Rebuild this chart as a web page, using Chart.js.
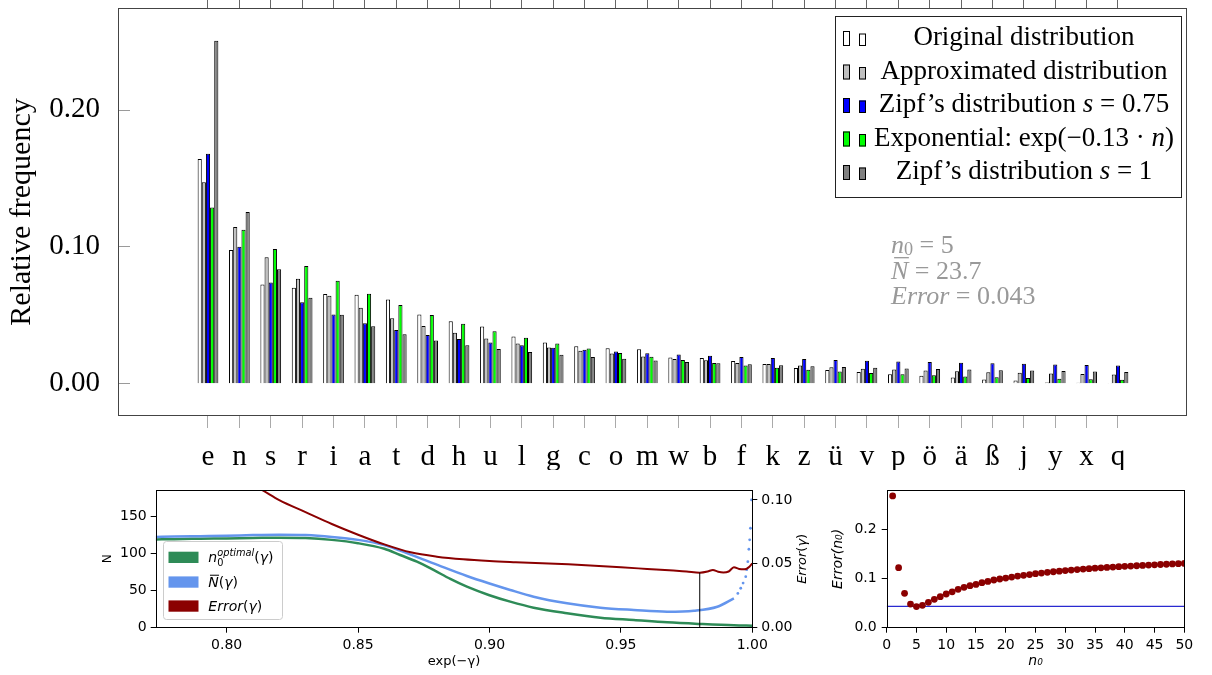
<!DOCTYPE html>
<html><head><meta charset="utf-8">
<script src="https://cdn.jsdelivr.net/npm/chart.js@4.4.1/dist/chart.umd.min.js"></script>
<style>
html,body{margin:0;padding:0;background:#fff;}
#wrap{position:relative;width:1212px;height:675px;overflow:hidden;background:#fff;}
canvas{position:absolute;}
</style></head><body>
<div id="wrap">
<canvas id="main" width="1212" height="470" style="left:0;top:0;width:1212px;height:470px"></canvas>
<canvas id="gam" width="720" height="195" style="left:100px;top:480px;width:720px;height:195px"></canvas>
<canvas id="n0c" width="392" height="195" style="left:820px;top:480px;width:392px;height:195px"></canvas>
</div>
<script>
// ---------------- DATA ----------------
const letters = ['e','n','s','r','i','a','t','d','h','u','l','g','c','o','m','w','b','f','k','z','ü','v','p','ö','ä','ß','j','y','x','q'];
const seriesNames = ['Original distribution','Approximated distribution','Zipf’s distribution s = 0.75','Exponential: exp(−0.13 · n)','Zipf’s distribution s = 1'];
const originalDist = [0.1639,0.0974,0.0723,0.0698,0.0652,0.0647,0.0613,0.0503,0.0454,0.0415,0.0342,0.0298,0.0271,0.0256,0.0249,0.0188,0.0185,0.0163,0.0141,0.0112,0.0098,0.0083,0.0066,0.0056,0.0042,0.0027,0.0021,0.0006,0.0004,0.0003];
const approxDist = [0.1470,0.1143,0.0921,0.0764,0.0640,0.0552,0.0476,0.0418,0.0369,0.0327,0.0291,0.0262,0.0237,0.0217,0.0195,0.0178,0.0168,0.0149,0.0141,0.0130,0.0117,0.0107,0.0100,0.0093,0.0088,0.0081,0.0078,0.0071,0.0068,0.0064];
const zipf075Dist = [0.1678,0.0998,0.0736,0.0593,0.0502,0.0438,0.0390,0.0353,0.0323,0.0298,0.0278,0.0260,0.0245,0.0232,0.0220,0.0210,0.0201,0.0192,0.0185,0.0177,0.0171,0.0165,0.0160,0.0155,0.0150,0.0146,0.0142,0.0138,0.0134,0.0131];
const expDist = [0.1285,0.1123,0.0981,0.0857,0.0749,0.0654,0.0572,0.0499,0.0436,0.0381,0.0333,0.0291,0.0254,0.0222,0.0194,0.0170,0.0148,0.0130,0.0113,0.0099,0.0087,0.0076,0.0066,0.0058,0.0050,0.0044,0.0039,0.0034,0.0029,0.0026];
const zipf1Dist = [0.2503,0.1252,0.0834,0.0626,0.0501,0.0417,0.0358,0.0313,0.0278,0.0250,0.0228,0.0209,0.0193,0.0179,0.0167,0.0156,0.0147,0.0139,0.0132,0.0125,0.0119,0.0114,0.0109,0.0104,0.0100,0.0096,0.0093,0.0089,0.0086,0.0083];
const mainYTicks = [0.00,0.10,0.20];

const gammaN0 = [0.773,0.78,0.79,0.80,0.81,0.82,0.83,0.84,0.85,0.86,0.866,0.8724,0.8787,0.8851,0.8914,0.8997,0.9079,0.9168,0.9295,0.9422,0.9549,0.9676,0.9803,0.993,1.0];
const n0Optimal = [118.5,119,119.5,120,120.5,121,120.5,118,113.5,106,97.7,88.7,77.6,65.5,55.1,44,35,26.9,19.4,13.4,10.3,7.2,5,3.2,2.7];
const gammaNbar = [0.773,0.78,0.79,0.80,0.81,0.82,0.83,0.84,0.85,0.86,0.866,0.8787,0.8914,0.8997,0.9079,0.9168,0.9295,0.9422,0.9549,0.9676,0.9778,0.9867,0.993];
const nBar = [122,122.5,123,123.5,124.5,125,124.5,122,118,111,103.5,86.5,69.5,59.7,50.7,41.7,32.8,26.9,23.8,21.5,22.8,28.2,39.5];
const gammaNbarTail = [0.9945,0.9956,0.9965,0.9975,0.9979,0.9983,0.9987,0.9990,0.9993,0.9997];
const nBarTail = [46,53,60,68.5,78,88.7,105.4,118,133.6,171.6];
const gammaErr = [0.81,0.8134,0.82,0.83,0.84,0.85,0.86,0.87,0.88,0.89,0.90,0.91,0.92,0.93,0.94,0.95,0.96,0.97,0.975,0.98,0.983,0.985,0.987,0.989,0.991,0.993,0.995,0.997,0.999,1.0];
const errGamma = [0.1115,0.1078,0.0999,0.0905,0.0812,0.0728,0.0652,0.0590,0.0556,0.0535,0.0522,0.0513,0.0505,0.0496,0.0485,0.0473,0.0460,0.0447,0.0440,0.0431,0.0440,0.0452,0.0438,0.0432,0.0440,0.0473,0.0460,0.0457,0.0480,0.0504];
const optGamma = 0.98, optGammaErr = 0.0431;
const gammaTicks = [0.80,0.85,0.90,0.95,1.00];
const nTicks = [0,50,100,150];
const errGammaTicks = [0.00,0.05,0.10];

const n0Values = [1,2,3,4,5,6,7,8,9,10,11,12,13,14,15,16,17,18,19,20,21,22,23,24,25,26,27,28,29,30,31,32,33,34,35,36,37,38,39,40,41,42,43,44,45,46,47,48,49,50];
const errN0 = [0.268,0.122,0.070,0.048,0.0430,0.0455,0.0516,0.0577,0.063,0.0685,0.073,0.078,0.082,0.0855,0.088,0.0915,0.094,0.097,0.099,0.101,0.103,0.105,0.1065,0.108,0.1098,0.111,0.1125,0.1138,0.115,0.1162,0.1172,0.1182,0.1192,0.1201,0.121,0.1218,0.1226,0.1233,0.124,0.1247,0.1254,0.126,0.1267,0.1273,0.1279,0.1285,0.129,0.1296,0.1301,0.1306];
const minErrN0 = 0.0435;
const n0Ticks = [0,5,10,15,20,25,30,35,40,45,50];
const errN0Ticks = [0.0,0.1,0.2];

// ---------------- HELPERS ----------------
const SERIF = '"Liberation Serif","DejaVu Serif",serif';
const SANS = '"DejaVu Sans",sans-serif';
Chart.defaults.font.family = SANS;
Chart.defaults.color = '#000';
const zip = (xs, ys) => xs.map((x, i) => ({x: x, y: ys[i]}));

function drawRuns(ctx, runs, x, y, o) {
  const fontOf = r => (r.i ? 'italic ' : '') + (o.size * (r.s || 1)).toFixed(1) + 'px ' + o.family;
  const widths = runs.map(r => { ctx.font = fontOf(r); return r.na ? 0 : ctx.measureText(r.t).width; });
  const total = widths.reduce((a, b) => a + b, 0);
  let cx = o.align === 'center' ? x - total / 2 : x;
  ctx.fillStyle = o.color; ctx.textAlign = 'left'; ctx.textBaseline = 'alphabetic';
  runs.forEach((r, k) => {
    ctx.font = fontOf(r);
    ctx.fillText(r.t, cx, y + (r.dy || 0) * o.size);
    if (r.bar) {
      const w = ctx.measureText(r.t).width;
      ctx.strokeStyle = o.color; ctx.lineWidth = Math.max(1, o.size * 0.05);
      ctx.beginPath(); ctx.moveTo(cx + o.size * 0.12, y - o.size * 0.82); ctx.lineTo(cx + w + o.size * 0.02, y - o.size * 0.82); ctx.stroke();
    }
    cx += widths[k];
  });
}
function frame(ctx, a, color) {
  ctx.strokeStyle = color; ctx.lineWidth = 1;
  ctx.strokeRect(Math.round(a.left) + 0.5, Math.round(a.top) + 0.5, Math.round(a.right - a.left) - 1, Math.round(a.bottom - a.top) - 1);
}
function fixTicks(arr) { return s => { s.ticks = arr.map(v => ({value: v})); }; }

// ---------------- MAIN BAR CHART ----------------
const xMinMain = -2.868, xMaxMain = 31.199;
const mainLegendRuns = [
  [{t: 'Original distribution'}],
  [{t: 'Approximated distribution'}],
  [{t: 'Zipf’s distribution '}, {t: 's', i: 1}, {t: ' = 0.75'}],
  [{t: 'Exponential: exp(−0.13 · '}, {t: 'n', i: 1}, {t: ')'}],
  [{t: 'Zipf’s distribution '}, {t: 's', i: 1}, {t: ' = 1'}]
];
const annotationRuns = [
  [{t: 'n', i: 1}, {t: '0', s: 0.7, dy: 0.07}, {t: ' = 5'}],
  [{t: 'N', i: 1, bar: 1}, {t: ' = 23.7'}],
  [{t: 'Error', i: 1}, {t: ' = 0.043'}]
];
const mainDecor = {
  id: 'mainDecor',
  afterDraw(chart) {
    const {ctx, chartArea: a, scales} = chart;
    ctx.save();
    ctx.strokeStyle = '#9a9a9a'; ctx.lineWidth = 1;
    mainYTicks.forEach(v => {
      const y = Math.round(scales.y.getPixelForValue(v)) + 0.5;
      ctx.beginPath(); ctx.moveTo(a.left, y); ctx.lineTo(a.left + 12, y); ctx.stroke();
    });
    frame(ctx, a, '#444');
    // legend
    ctx.fillStyle = '#fff'; ctx.fillRect(836, 16, 346, 182);
    ctx.strokeStyle = '#222'; ctx.strokeRect(835.5, 16.5, 346, 181);
    const base = [45, 78.5, 112, 145.5, 179];
    chart.data.datasets.forEach((ds, i) => {
      const b = base[i] + 1;
      ctx.fillStyle = ds.backgroundColor; ctx.strokeStyle = '#000'; ctx.lineWidth = 1;
      ctx.fillRect(843, b - 15, 7, 15); ctx.strokeRect(843.5, b - 14.5, 6, 14);
      ctx.fillRect(859, b - 12.5, 7, 12.5); ctx.strokeRect(859.5, b - 12, 6, 11.5);
      drawRuns(ctx, mainLegendRuns[i], 1024, base[i], {size: 27, family: SERIF, color: '#000', align: 'center'});
    });
    // annotation
    const ab = [253, 279, 304];
    annotationRuns.forEach((r, i) => drawRuns(ctx, r, 891, ab[i], {size: 26, family: SERIF, color: '#999999', align: 'left'}));
    ctx.restore();
  }
};
const barColors = ['#ffffff', '#c0c0c0', '#0000ff', '#00ff00', '#808080'];
const barSeries = [originalDist, approxDist, zipf075Dist, expDist, zipf1Dist];
new Chart(document.getElementById('main'), {
  type: 'bar',
  data: {
    datasets: barSeries.map((s, i) => ({
      label: seriesNames[i],
      data: s.map((v, k) => ({x: k, y: v})),
      backgroundColor: barColors[i], borderColor: '#000', borderWidth: 1,
      categoryPercentage: 0.66, barPercentage: 1.0
    }))
  },
  options: {
    responsive: false, animation: false, devicePixelRatio: 1,
    layout: {padding: {left: 0, right: 25, top: 0, bottom: 0}},
    plugins: {legend: {display: false}, tooltip: {enabled: false}},
    scales: {
      x: {
        type: 'linear', min: xMinMain, max: xMaxMain, offset: false,
        afterBuildTicks: fixTicks(letters.map((c, i) => i)),
        ticks: {callback: v => letters[Math.round(v)], font: {family: SERIF, size: 29}, color: '#000', padding: 12, autoSkip: false, maxRotation: 0, minRotation: 0},
        grid: {drawOnChartArea: false, tickLength: 12, color: '#aaaaaa', offset: false},
        border: {display: false},
        afterFit: s => { s.height = 54; s.paddingLeft = 0; s.paddingRight = 0; }
      },
      xTop: {
        type: 'linear', position: 'top', min: xMinMain, max: xMaxMain, offset: false,
        afterBuildTicks: fixTicks(letters.map((c, i) => i)),
        ticks: {display: false},
        grid: {drawOnChartArea: false, tickLength: 8, color: '#666', offset: false},
        border: {display: false},
        afterFit: s => { s.height = 8; s.paddingLeft = 0; s.paddingRight = 0; }
      },
      y: {
        min: -0.0239, max: 0.2743,
        afterBuildTicks: fixTicks(mainYTicks),
        ticks: {callback: v => v.toFixed(2), font: {family: SERIF, size: 29}, color: '#000', padding: 10},
        grid: {display: false},
        border: {display: false},
        title: {display: true, text: 'Relative frequency', font: {family: SERIF, size: 30}, color: '#000', padding: {top: 4, bottom: 0}},
        afterFit: s => { s.width = 118; s.paddingTop = 0; s.paddingBottom = 0; }
      }
    }
  },
  plugins: [mainDecor]
});

// ---------------- GAMMA CHART ----------------
const gamLegend = [
  {color: '#2e8b57', runs: [{t: 'n', i: 1}, {t: '0', s: 0.7, dy: 0.25, na: 1}, {t: 'optimal', i: 1, s: 0.7, dy: -0.45}, {t: '('}, {t: 'γ', i: 1}, {t: ')'}]},
  {color: '#6495ed', runs: [{t: 'N', i: 1, bar: 1}, {t: '('}, {t: 'γ', i: 1}, {t: ')'}]},
  {color: '#8b0000', runs: [{t: 'Error', i: 1}, {t: '('}, {t: 'γ', i: 1}, {t: ')'}]}
];
const gamDecor = {
  id: 'gamDecor',
  afterDraw(chart) {
    const {ctx, chartArea: a} = chart;
    ctx.save();
    frame(ctx, a, '#000');
    // legend box
    ctx.fillStyle = 'rgba(255,255,255,0.85)'; ctx.strokeStyle = '#cccccc'; ctx.lineWidth = 1;
    ctx.beginPath(); ctx.roundRect(63.5, 61.5, 119, 78, 3); ctx.fill(); ctx.stroke();
    const base = [82, 106.7, 130.7];
    gamLegend.forEach((r, i) => {
      ctx.fillStyle = r.color; ctx.fillRect(68.5, base[i] - 10.3, 30, 11.3);
      drawRuns(ctx, r.runs, 108.3, base[i], {size: 14, family: SANS, color: '#000', align: 'left'});
    });
    // right axis title (rotated, reading upward)
    ctx.translate(701, (a.top + a.bottom) / 2);
    ctx.rotate(-Math.PI / 2);
    drawRuns(ctx, [{t: 'Error', i: 1}, {t: '('}, {t: 'γ', i: 1}, {t: ')'}], 0, 4.5, {size: 13, family: SANS, color: '#000', align: 'center'});
    ctx.restore();
  }
};
const lineBase = {showLine: true, pointRadius: 0, fill: false, cubicInterpolationMode: 'monotone'};
new Chart(document.getElementById('gam'), {
  type: 'scatter',
  data: {
    datasets: [
      Object.assign({}, lineBase, {label: 'optimum', data: [{x: optGamma, y: 0}, {x: optGamma, y: optGammaErr}], borderColor: '#000', borderWidth: 1, yAxisID: 'y2', cubicInterpolationMode: 'default'}),
      Object.assign({}, lineBase, {label: 'Error(γ)', data: zip(gammaErr, errGamma), borderColor: '#8b0000', borderWidth: 2, yAxisID: 'y2'}),
      {label: 'N̄(γ) tail', data: zip(gammaNbarTail, nBarTail), showLine: false, pointRadius: 1.4, backgroundColor: '#6495ed', borderWidth: 0, yAxisID: 'y'},
      Object.assign({}, lineBase, {label: 'N̄(γ)', data: zip(gammaNbar, nBar), borderColor: '#6495ed', borderWidth: 2.5, yAxisID: 'y'}),
      Object.assign({}, lineBase, {label: 'n0 optimal(γ)', data: zip(gammaN0, n0Optimal), borderColor: '#2e8b57', borderWidth: 2.5, yAxisID: 'y'})
    ]
  },
  options: {
    responsive: false, animation: false, devicePixelRatio: 1,
    layout: {padding: {left: 0, right: 0, top: 10, bottom: 0}},
    plugins: {legend: {display: false}, tooltip: {enabled: false}},
    scales: {
      x: {
        type: 'linear', min: 0.773, max: 1.0, offset: false,
        afterBuildTicks: fixTicks(gammaTicks),
        ticks: {callback: v => v.toFixed(2), font: {size: 14}, color: '#000', padding: 4, maxRotation: 0},
        grid: {drawOnChartArea: false, tickLength: 5, color: '#000'},
        border: {display: false},
        title: {display: true, text: 'exp(−γ)', font: {size: 13}, color: '#000', padding: {top: 0, bottom: 6}},
        afterFit: s => { s.height = 47.3; s.paddingLeft = 0; s.paddingRight = 0; }
      },
      y: {
        type: 'linear', position: 'left', min: 0, max: 185,
        afterBuildTicks: fixTicks(nTicks),
        ticks: {font: {size: 14}, color: '#000', padding: 4},
        grid: {drawOnChartArea: false, tickLength: 5, color: '#000'},
        border: {display: false},
        title: {display: true, text: 'N', font: {size: 12}, color: '#000', padding: {top: 1, bottom: 0}},
        afterFit: s => { s.width = 55.7; s.paddingTop = 0; s.paddingBottom = 0; }
      },
      y2: {
        type: 'linear', position: 'right', min: 0, max: 0.1078,
        afterBuildTicks: fixTicks(errGammaTicks),
        ticks: {callback: v => v.toFixed(2), font: {size: 14}, color: '#000', padding: 4},
        grid: {drawOnChartArea: false, tickLength: 5, color: '#000'},
        border: {display: false},
        afterFit: s => { s.width = 67.7; s.paddingTop = 0; s.paddingBottom = 0; }
      }
    }
  },
  plugins: [gamDecor]
});

// ---------------- n0 CHART ----------------
const n0Decor = {
  id: 'n0Decor',
  afterDraw(chart) { const {ctx, chartArea: a} = chart; ctx.save(); frame(ctx, a, '#000'); ctx.restore(); }
};
new Chart(document.getElementById('n0c'), {
  type: 'scatter',
  data: {
    datasets: [
      {label: 'Error(n0)', data: zip(n0Values, errN0), pointRadius: 3.4, backgroundColor: '#8b0000', borderWidth: 0, showLine: false},
      {label: 'minimum', data: [{x: 0, y: minErrN0}, {x: 50, y: minErrN0}], showLine: true, pointRadius: 0, borderColor: '#2a2ad0', borderWidth: 1.2}
    ]
  },
  options: {
    responsive: false, animation: false, devicePixelRatio: 1,
    layout: {padding: {left: 0, right: 27.7, top: 10, bottom: 0}},
    plugins: {legend: {display: false}, tooltip: {enabled: false}},
    scales: {
      x: {
        type: 'linear', min: 0, max: 50, offset: false,
        afterBuildTicks: fixTicks(n0Ticks),
        ticks: {font: {size: 14}, color: '#000', padding: 4, maxRotation: 0, autoSkip: false},
        grid: {drawOnChartArea: false, tickLength: 5, color: '#000'},
        border: {display: false},
        title: {display: true, text: 'n₀', font: {size: 14, style: 'italic'}, color: '#000', padding: {top: 0, bottom: 5}},
        afterFit: s => { s.height = 47.3; s.paddingLeft = 0; s.paddingRight = 0; }
      },
      y: {
        type: 'linear', min: 0, max: 0.28,
        afterBuildTicks: fixTicks(errN0Ticks),
        ticks: {callback: v => v.toFixed(1), font: {size: 14}, color: '#000', padding: 5},
        grid: {drawOnChartArea: false, tickLength: 5, color: '#000'},
        border: {display: false},
        title: {display: true, text: 'Error(n₀)', font: {size: 14, style: 'italic'}, color: '#000', padding: {top: 10, bottom: 0}},
        afterFit: s => { s.width = 66.7; s.paddingTop = 0; s.paddingBottom = 0; }
      }
    }
  },
  plugins: [n0Decor]
});
</script></body></html>
